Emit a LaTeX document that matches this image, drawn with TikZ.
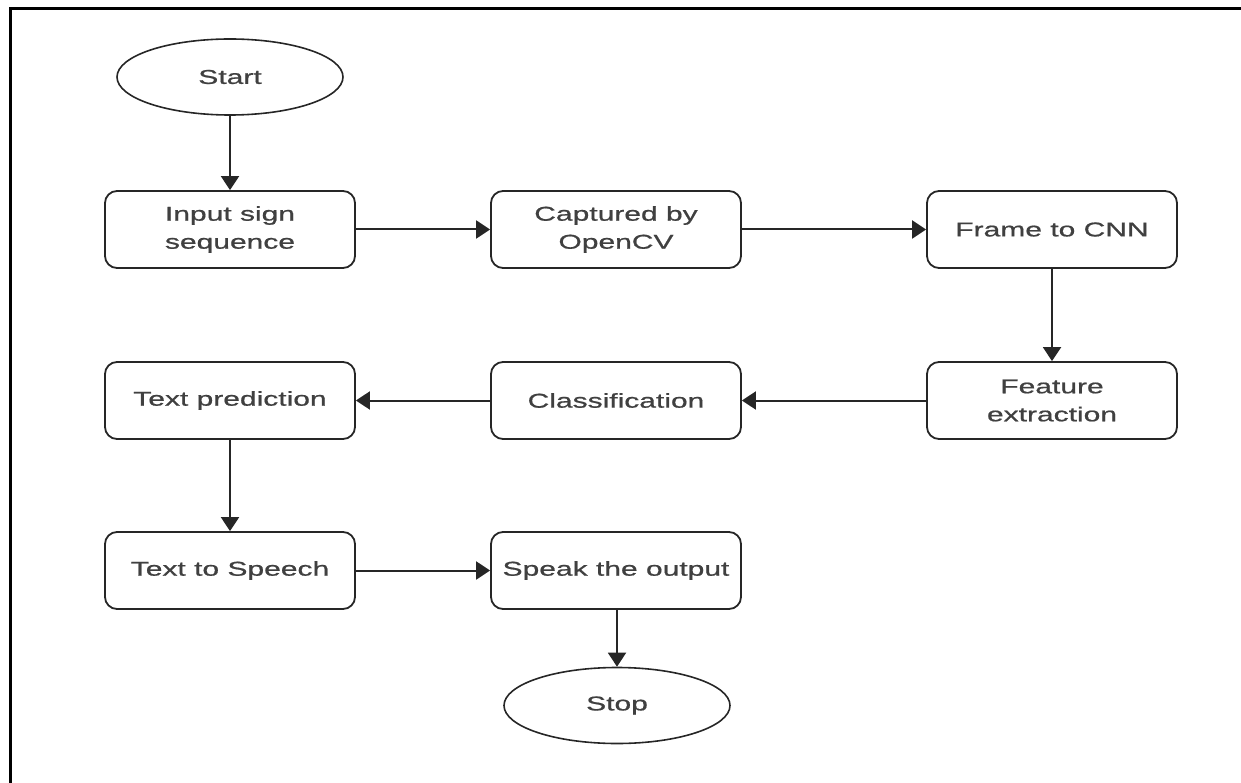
\documentclass[tikz,border=0pt]{standalone}
\usepackage{fontspec}
\setmainfont{Liberation Sans}[FakeStretch=1.5,FakeBold=0.8]
\usetikzlibrary{shapes.geometric,arrows.meta}
\begin{document}
\begin{tikzpicture}[x=1pt,y=-1pt,
  proc/.style={draw=black!85,line width=1.8pt,rounded corners=12pt,minimum width=250pt,minimum height=77pt,align=center,font=\fontsize{20}{28}\selectfont,text=black!75,inner sep=0pt},
  term/.style={draw=black!85,line width=1.6pt,ellipse,minimum width=226pt,minimum height=76pt,font=\fontsize{20}{28}\selectfont,text=black!75,inner sep=0pt},
  conn/.style={line width=2pt,draw=black!85,-{Triangle[length=14pt,width=18pt]}}]
\useasboundingbox (0,0) rectangle (1241,783);
\draw[line width=3pt] (10.5,783) -- (10.5,9) -- (1241,9);
\node[term] (start) at (230,77) {Start};
\node[proc] (input) at (230,229.5) {Input sign\\sequence};
\node[proc] (capt) at (616,229.5) {Captured by\\OpenCV};
\node[proc] (frame) at (1052,229.5) {Frame to CNN};
\node[proc] (feat) at (1052,400.5) {Feature\\extraction};
\node[proc] (class) at (616,400.5) {Classification};
\node[proc] (pred) at (230,400.5) {Text prediction};
\node[proc] (tts) at (230,570.5) {Text to Speech};
\node[proc] (speak) at (616,570.5) {Speak the output};
\node[term] (stop) at (617,705.5) {Stop};
\draw[conn] (start) -- (input);
\draw[conn] (input) -- (capt);
\draw[conn] (capt) -- (frame);
\draw[conn] (frame) -- (feat);
\draw[conn] (feat) -- (class);
\draw[conn] (class) -- (pred);
\draw[conn] (pred) -- (tts);
\draw[conn] (tts) -- (speak);
\draw[conn] (speak.south -| stop) -- (stop);
\end{tikzpicture}
\end{document}
